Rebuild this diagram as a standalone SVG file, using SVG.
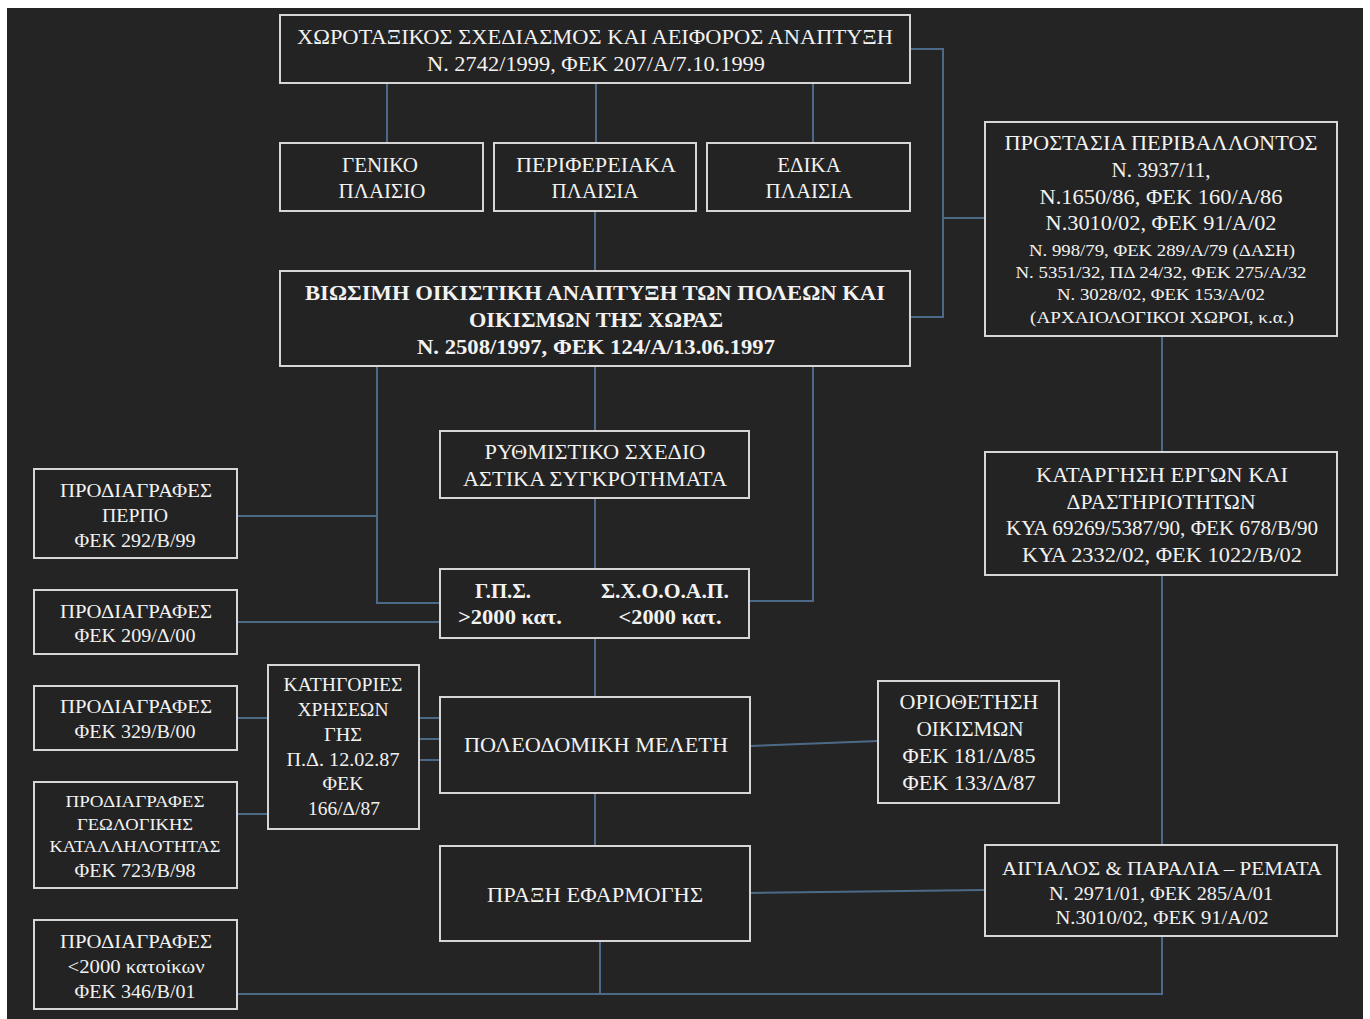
<svg xmlns="http://www.w3.org/2000/svg" width="1370" height="1019" viewBox="0 0 1370 1019">
<style>
.box{fill:#232323;stroke:#d6d6d6;stroke-width:2}
.t{font-family:"Liberation Serif","Times New Roman",serif;fill:#f2f2f2;text-anchor:middle;dominant-baseline:central}
.b{font-weight:bold}
.s21{font-size:21px}.s18{font-size:18px}.s16{font-size:16px}.s17{font-size:17px}
.c{fill:none;stroke:#4c6a88;stroke-width:2}
</style>
<rect width="1370" height="1019" fill="#ffffff"/>
<rect x="7" y="8" width="1356" height="1011" fill="#242424"/>
<g id="connectors">
<path class="c" d="M387 83V143M596 83V143M813 83V143"/>
<path class="c" d="M910 49H943V317H910M943 218H984"/>
<path class="c" d="M595 211V271"/>
<path class="c" d="M595 366V431M595 498V569M595 638V697M595 793V846"/>
<path class="c" d="M377 366V603H440M237 516H377M237 622H440"/>
<path class="c" d="M813 366V601H749"/>
<path class="c" d="M237 718H268M237 814H268M419 718H440M419 739H440M419 760H440"/>
<path class="c" d="M750 746L878 741"/>
<path class="c" d="M750 893L984 890"/>
<path class="c" d="M1162 337V452M1162 576V845M1162 936V994H237M600 940V994"/>
</g>
<g id="n-top"><rect class="box" x="280" y="15" width="630" height="68"/>
<text class="t s21" x="595" y="37" textLength="596" lengthAdjust="spacingAndGlyphs">ΧΩΡΟΤΑΞΙΚΟΣ ΣΧΕΔΙΑΣΜΟΣ ΚΑΙ ΑΕΙΦΟΡΟΣ ΑΝΑΠΤΥΞΗ</text>
<text class="t s21" x="596" y="64" textLength="338" lengthAdjust="spacingAndGlyphs">Ν. 2742/1999, ΦΕΚ 207/Α/7.10.1999</text></g>
<g id="n-geniko"><rect class="box" x="280" y="143" width="203" height="68"/>
<text class="t s21" x="380" y="165">ΓΕΝΙΚΟ</text><text class="t s21" x="382" y="191">ΠΛΑΙΣΙΟ</text></g>
<g id="n-perif"><rect class="box" x="494" y="143" width="202" height="68"/>
<text class="t s21" x="596" y="165" textLength="160" lengthAdjust="spacingAndGlyphs">ΠΕΡΙΦΕΡΕΙΑΚΑ</text><text class="t s21" x="595" y="191">ΠΛΑΙΣΙΑ</text></g>
<g id="n-eidika"><rect class="box" x="707" y="143" width="203" height="68"/>
<text class="t s21" x="809" y="165">ΕΔΙΚΑ</text><text class="t s21" x="809" y="191">ΠΛΑΙΣΙΑ</text></g>
<g id="n-viosimi"><rect class="box" x="280" y="271" width="630" height="95"/>
<text class="t s21 b" x="595" y="293" textLength="580" lengthAdjust="spacingAndGlyphs">ΒΙΩΣΙΜΗ ΟΙΚΙΣΤΙΚΗ ΑΝΑΠΤΥΞΗ ΤΩΝ ΠΟΛΕΩΝ ΚΑΙ</text>
<text class="t s21 b" x="596" y="320" textLength="254" lengthAdjust="spacingAndGlyphs">ΟΙΚΙΣΜΩΝ ΤΗΣ ΧΩΡΑΣ</text>
<text class="t s21 b" x="596" y="347" textLength="358" lengthAdjust="spacingAndGlyphs">Ν. 2508/1997, ΦΕΚ 124/Α/13.06.1997</text></g>
<g id="n-prostasia"><rect class="box" x="985" y="122" width="352" height="214"/>
<text class="t s21" x="1161" y="143" textLength="313" lengthAdjust="spacingAndGlyphs">ΠΡΟΣΤΑΣΙΑ ΠΕΡΙΒΑΛΛΟΝΤΟΣ</text>
<text class="t s21" x="1161" y="170">Ν. 3937/11,</text>
<text class="t s21" x="1161" y="197" textLength="243" lengthAdjust="spacingAndGlyphs">Ν.1650/86, ΦΕΚ 160/Α/86</text>
<text class="t s21" x="1161" y="223" textLength="231" lengthAdjust="spacingAndGlyphs">Ν.3010/02, ΦΕΚ 91/Α/02</text>
<text class="t s16" x="1162" y="250" textLength="266" lengthAdjust="spacingAndGlyphs">Ν. 998/79, ΦΕΚ 289/Α/79 (ΔΑΣΗ)</text>
<text class="t s16" x="1161" y="272" textLength="291" lengthAdjust="spacingAndGlyphs">Ν. 5351/32, ΠΔ 24/32, ΦΕΚ 275/Α/32</text>
<text class="t s16" x="1161" y="294" textLength="208" lengthAdjust="spacingAndGlyphs">Ν. 3028/02, ΦΕΚ 153/Α/02</text>
<text class="t s16" x="1162" y="317" textLength="264" lengthAdjust="spacingAndGlyphs">(ΑΡΧΑΙΟΛΟΓΙΚΟΙ ΧΩΡΟΙ, κ.α.)</text></g>
<g id="n-rythmistiko"><rect class="box" x="440" y="431" width="309" height="67"/>
<text class="t s21" x="595" y="452" textLength="221" lengthAdjust="spacingAndGlyphs">ΡΥΘΜΙΣΤΙΚΟ ΣΧΕΔΙΟ</text>
<text class="t s21" x="595" y="479" textLength="264" lengthAdjust="spacingAndGlyphs">ΑΣΤΙΚΑ ΣΥΓΚΡΟΤΗΜΑΤΑ</text></g>
<g id="n-gps"><rect class="box" x="440" y="569" width="309" height="69"/>
<text class="t s21 b" x="503" y="591" textLength="56" lengthAdjust="spacingAndGlyphs">Γ.Π.Σ.</text>
<text class="t s21 b" x="665" y="591" textLength="128" lengthAdjust="spacingAndGlyphs">Σ.Χ.Ο.Ο.Α.Π.</text>
<text class="t s21 b" x="510" y="617" textLength="104" lengthAdjust="spacingAndGlyphs">&gt;2000 κατ.</text>
<text class="t s21 b" x="670" y="617" textLength="103" lengthAdjust="spacingAndGlyphs">&lt;2000 κατ.</text></g>
<g id="n-katargisi"><rect class="box" x="985" y="452" width="352" height="123"/>
<text class="t s21" x="1162" y="475" textLength="252" lengthAdjust="spacingAndGlyphs">ΚΑΤΑΡΓΗΣΗ ΕΡΓΩΝ ΚΑΙ</text>
<text class="t s21" x="1161" y="502" textLength="189" lengthAdjust="spacingAndGlyphs">ΔΡΑΣΤΗΡΙΟΤΗΤΩΝ</text>
<text class="t s21" x="1162" y="528" textLength="312" lengthAdjust="spacingAndGlyphs">ΚΥΑ 69269/5387/90, ΦΕΚ 678/Β/90</text>
<text class="t s21" x="1162" y="555" textLength="280" lengthAdjust="spacingAndGlyphs">ΚΥΑ 2332/02, ΦΕΚ 1022/Β/02</text></g>
<g id="n-perpo"><rect class="box" x="34" y="469" width="203" height="89"/>
<text class="t s18" x="136" y="491" textLength="152" lengthAdjust="spacingAndGlyphs">ΠΡΟΔΙΑΓΡΑΦΕΣ</text>
<text class="t s18" x="135" y="516" textLength="66" lengthAdjust="spacingAndGlyphs">ΠΕΡΠΟ</text>
<text class="t s18" x="135" y="541" textLength="121" lengthAdjust="spacingAndGlyphs">ΦΕΚ 292/Β/99</text></g>
<g id="n-fek209"><rect class="box" x="34" y="590" width="203" height="64"/>
<text class="t s18" x="136" y="612" textLength="152" lengthAdjust="spacingAndGlyphs">ΠΡΟΔΙΑΓΡΑΦΕΣ</text>
<text class="t s18" x="135" y="636" textLength="121" lengthAdjust="spacingAndGlyphs">ΦΕΚ 209/Δ/00</text></g>
<g id="n-fek329"><rect class="box" x="34" y="686" width="203" height="64"/>
<text class="t s18" x="136" y="707" textLength="152" lengthAdjust="spacingAndGlyphs">ΠΡΟΔΙΑΓΡΑΦΕΣ</text>
<text class="t s18" x="135" y="732" textLength="121" lengthAdjust="spacingAndGlyphs">ΦΕΚ 329/Β/00</text></g>
<g id="n-geologikis"><rect class="box" x="34" y="782" width="203" height="106"/>
<text class="t s17" x="135" y="801" textLength="139" lengthAdjust="spacingAndGlyphs">ΠΡΟΔΙΑΓΡΑΦΕΣ</text>
<text class="t s17" x="135" y="824" textLength="116" lengthAdjust="spacingAndGlyphs">ΓΕΩΛΟΓΙΚΗΣ</text>
<text class="t s17" x="135" y="846" textLength="171" lengthAdjust="spacingAndGlyphs">ΚΑΤΑΛΛΗΛΟΤΗΤΑΣ</text>
<text class="t s18" x="135" y="871" textLength="121" lengthAdjust="spacingAndGlyphs">ΦΕΚ 723/Β/98</text></g>
<g id="n-fek346"><rect class="box" x="34" y="920" width="203" height="89"/>
<text class="t s18" x="136" y="942" textLength="152" lengthAdjust="spacingAndGlyphs">ΠΡΟΔΙΑΓΡΑΦΕΣ</text>
<text class="t s18" x="136" y="967" textLength="137" lengthAdjust="spacingAndGlyphs">&lt;2000 κατοίκων</text>
<text class="t s18" x="135" y="992" textLength="121" lengthAdjust="spacingAndGlyphs">ΦΕΚ 346/Β/01</text></g>
<g id="n-katigories"><rect class="box" x="268" y="665" width="151" height="164"/>
<text class="t s18" x="343" y="685" textLength="119" lengthAdjust="spacingAndGlyphs">ΚΑΤΗΓΟΡΙΕΣ</text>
<text class="t s18" x="343" y="710" textLength="91" lengthAdjust="spacingAndGlyphs">ΧΡΗΣΕΩΝ</text>
<text class="t s18" x="343" y="735" textLength="38" lengthAdjust="spacingAndGlyphs">ΓΗΣ</text>
<text class="t s18" x="343" y="760" textLength="113" lengthAdjust="spacingAndGlyphs">Π.Δ. 12.02.87</text>
<text class="t s18" x="343" y="784" textLength="41" lengthAdjust="spacingAndGlyphs">ΦΕΚ</text>
<text class="t s18" x="344" y="809" textLength="72" lengthAdjust="spacingAndGlyphs">166/Δ/87</text></g>
<g id="n-poleodomiki"><rect class="box" x="440" y="697" width="310" height="96"/>
<text class="t s21" x="596" y="745" textLength="264" lengthAdjust="spacingAndGlyphs">ΠΟΛΕΟΔΟΜΙΚΗ ΜΕΛΕΤΗ</text></g>
<g id="n-oriothetisi"><rect class="box" x="878" y="681" width="181" height="122"/>
<text class="t s21" x="969" y="702" textLength="139" lengthAdjust="spacingAndGlyphs">ΟΡΙΟΘΕΤΗΣΗ</text>
<text class="t s21" x="970" y="729" textLength="107" lengthAdjust="spacingAndGlyphs">ΟΙΚΙΣΜΩΝ</text>
<text class="t s21" x="969" y="756" textLength="133" lengthAdjust="spacingAndGlyphs">ΦΕΚ 181/Δ/85</text>
<text class="t s21" x="969" y="783" textLength="133" lengthAdjust="spacingAndGlyphs">ΦΕΚ 133/Δ/87</text></g>
<g id="n-praxi"><rect class="box" x="440" y="846" width="310" height="95"/>
<text class="t s21" x="595" y="895" textLength="216" lengthAdjust="spacingAndGlyphs">ΠΡΑΞΗ ΕΦΑΡΜΟΓΗΣ</text></g>
<g id="n-aigialos"><rect class="box" x="985" y="845" width="352" height="91"/>
<text class="t s18" x="1162" y="869" textLength="320" lengthAdjust="spacingAndGlyphs">ΑΙΓΙΑΛΟΣ &amp; ΠΑΡΑΛΙΑ – ΡΕΜΑΤΑ</text>
<text class="t s18" x="1161" y="894" textLength="224" lengthAdjust="spacingAndGlyphs">Ν. 2971/01, ΦΕΚ 285/Α/01</text>
<text class="t s18" x="1162" y="918" textLength="213" lengthAdjust="spacingAndGlyphs">Ν.3010/02, ΦΕΚ 91/Α/02</text></g>
</svg>
